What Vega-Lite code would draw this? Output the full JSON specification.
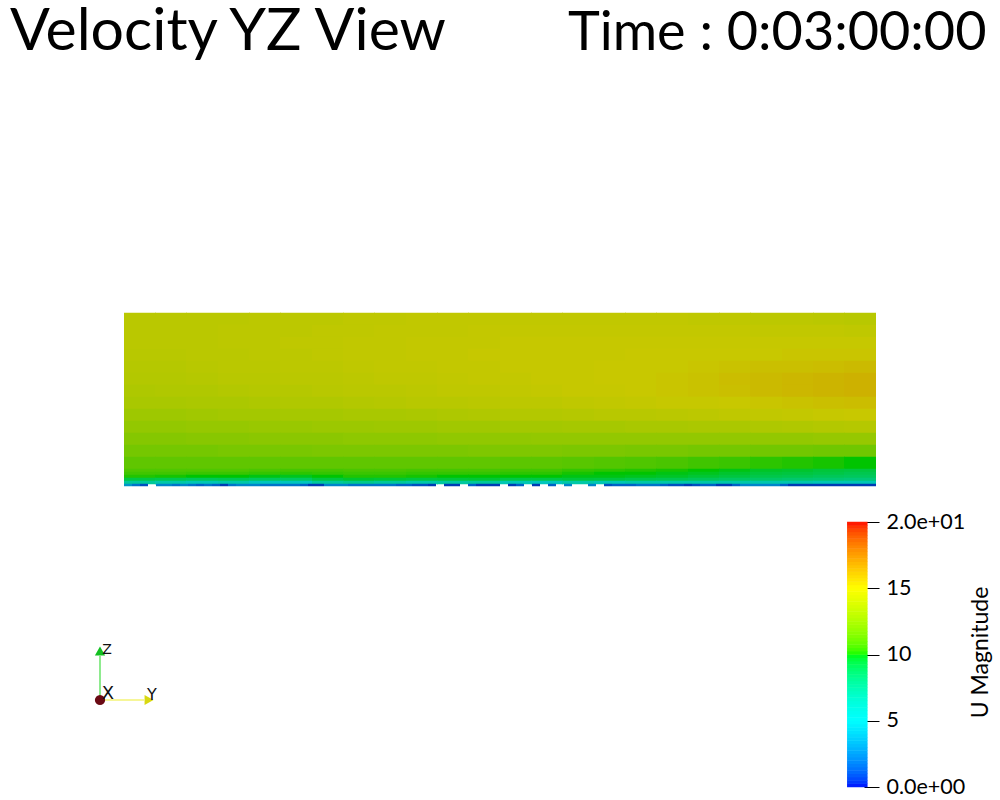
{"$schema":"https://vega.github.io/schema/vega-lite/v6.json","width":1000,"height":800,"padding":0,"autosize":"none","background":"white","view":{"stroke":null},
"datasets":{"title1":[{"y":-114,"z":436,"t":"Velocity YZ View"}],"title2":[{"y":444,"z":436,"t":"Time : 0:03:00:00"}],
"bar":[{"y":733.3,"u":0.125},{"y":733.3,"u":0.375},{"y":733.3,"u":0.625},{"y":733.3,"u":0.875},{"y":733.3,"u":1.125},{"y":733.3,"u":1.375},{"y":733.3,"u":1.625},{"y":733.3,"u":1.875},{"y":733.3,"u":2.125},{"y":733.3,"u":2.375},{"y":733.3,"u":2.625},{"y":733.3,"u":2.875},{"y":733.3,"u":3.125},{"y":733.3,"u":3.375},{"y":733.3,"u":3.625},{"y":733.3,"u":3.875},{"y":733.3,"u":4.125},{"y":733.3,"u":4.375},{"y":733.3,"u":4.625},{"y":733.3,"u":4.875},{"y":733.3,"u":5.125},{"y":733.3,"u":5.375},{"y":733.3,"u":5.625},{"y":733.3,"u":5.875},{"y":733.3,"u":6.125},{"y":733.3,"u":6.375},{"y":733.3,"u":6.625},{"y":733.3,"u":6.875},{"y":733.3,"u":7.125},{"y":733.3,"u":7.375},{"y":733.3,"u":7.625},{"y":733.3,"u":7.875},{"y":733.3,"u":8.125},{"y":733.3,"u":8.375},{"y":733.3,"u":8.625},{"y":733.3,"u":8.875},{"y":733.3,"u":9.125},{"y":733.3,"u":9.375},{"y":733.3,"u":9.625},{"y":733.3,"u":9.875},{"y":733.3,"u":10.125},{"y":733.3,"u":10.375},{"y":733.3,"u":10.625},{"y":733.3,"u":10.875},{"y":733.3,"u":11.125},{"y":733.3,"u":11.375},{"y":733.3,"u":11.625},{"y":733.3,"u":11.875},{"y":733.3,"u":12.125},{"y":733.3,"u":12.375},{"y":733.3,"u":12.625},{"y":733.3,"u":12.875},{"y":733.3,"u":13.125},{"y":733.3,"u":13.375},{"y":733.3,"u":13.625},{"y":733.3,"u":13.875},{"y":733.3,"u":14.125},{"y":733.3,"u":14.375},{"y":733.3,"u":14.625},{"y":733.3,"u":14.875},{"y":733.3,"u":15.125},{"y":733.3,"u":15.375},{"y":733.3,"u":15.625},{"y":733.3,"u":15.875},{"y":733.3,"u":16.125},{"y":733.3,"u":16.375},{"y":733.3,"u":16.625},{"y":733.3,"u":16.875},{"y":733.3,"u":17.125},{"y":733.3,"u":17.375},{"y":733.3,"u":17.625},{"y":733.3,"u":17.875},{"y":733.3,"u":18.125},{"y":733.3,"u":18.375},{"y":733.3,"u":18.625},{"y":733.3,"u":18.875},{"y":733.3,"u":19.125},{"y":733.3,"u":19.375},{"y":733.3,"u":19.625},{"y":733.3,"u":19.875}],
"lines":[{"axis":"Y","y":-24,"z":-214,"y1":20,"z1":-214},{"axis":"Z","y":-24,"z":-214,"y1":-24,"z1":-170}],
"heads":[{"axis":"X","y":-24,"z":-214},{"axis":"Y","y":25,"z":-214},{"axis":"Z","y":-24,"z":-165}],
"labels":[{"axis":"X","y":-16,"z":-208},{"axis":"Y","y":28,"z":-209},{"axis":"Z","y":-17,"z":-164}],
"main":[
{"y":16,"z":167,"u":14.4},{"y":47,"z":167,"u":14.4},{"y":78,"z":167,"u":14.4},{"y":110,"z":167,"u":14.4},{"y":141,"z":167,"u":14.5},{"y":172,"z":167,"u":14.5},{"y":204,"z":167,"u":14.5},{"y":235,"z":167,"u":14.6},{"y":266,"z":167,"u":14.6},{"y":298,"z":167,"u":14.7},{"y":329,"z":167,"u":14.7},{"y":360,"z":167,"u":14.7},{"y":392,"z":167,"u":14.7},{"y":423,"z":167,"u":14.7},{"y":454,"z":167,"u":14.7},{"y":486,"z":167,"u":14.7},{"y":517,"z":167,"u":14.7},{"y":548,"z":167,"u":14.7},{"y":580,"z":167,"u":14.6},{"y":611,"z":167,"u":14.6},{"y":642,"z":167,"u":14.5},{"y":674,"z":167,"u":14.5},{"y":705,"z":167,"u":14.4},{"y":736,"z":167,"u":14.3},
{"y":16,"z":155,"u":14.4},{"y":47,"z":155,"u":14.4},{"y":78,"z":155,"u":14.4},{"y":110,"z":155,"u":14.5},{"y":141,"z":155,"u":14.5},{"y":172,"z":155,"u":14.5},{"y":204,"z":155,"u":14.6},{"y":235,"z":155,"u":14.6},{"y":266,"z":155,"u":14.7},{"y":298,"z":155,"u":14.7},{"y":329,"z":155,"u":14.7},{"y":360,"z":155,"u":14.8},{"y":392,"z":155,"u":14.8},{"y":423,"z":155,"u":14.8},{"y":454,"z":155,"u":14.8},{"y":486,"z":155,"u":14.8},{"y":517,"z":155,"u":14.8},{"y":548,"z":155,"u":14.8},{"y":580,"z":155,"u":14.8},{"y":611,"z":155,"u":14.8},{"y":642,"z":155,"u":14.7},{"y":674,"z":155,"u":14.7},{"y":705,"z":155,"u":14.7},{"y":736,"z":155,"u":14.6},
{"y":16,"z":143,"u":14.4},{"y":47,"z":143,"u":14.4},{"y":78,"z":143,"u":14.4},{"y":110,"z":143,"u":14.5},{"y":141,"z":143,"u":14.5},{"y":172,"z":143,"u":14.6},{"y":204,"z":143,"u":14.6},{"y":235,"z":143,"u":14.7},{"y":266,"z":143,"u":14.7},{"y":298,"z":143,"u":14.8},{"y":329,"z":143,"u":14.8},{"y":360,"z":143,"u":14.8},{"y":392,"z":143,"u":14.9},{"y":423,"z":143,"u":14.9},{"y":454,"z":143,"u":14.9},{"y":486,"z":143,"u":14.9},{"y":517,"z":143,"u":14.9},{"y":548,"z":143,"u":14.9},{"y":580,"z":143,"u":14.9},{"y":611,"z":143,"u":14.9},{"y":642,"z":143,"u":14.9},{"y":674,"z":143,"u":14.9},{"y":705,"z":143,"u":14.9},{"y":736,"z":143,"u":14.9},
{"y":16,"z":131,"u":14.3},{"y":47,"z":131,"u":14.3},{"y":78,"z":131,"u":14.4},{"y":110,"z":131,"u":14.4},{"y":141,"z":131,"u":14.5},{"y":172,"z":131,"u":14.5},{"y":204,"z":131,"u":14.6},{"y":235,"z":131,"u":14.7},{"y":266,"z":131,"u":14.7},{"y":298,"z":131,"u":14.8},{"y":329,"z":131,"u":14.8},{"y":360,"z":131,"u":14.9},{"y":392,"z":131,"u":14.9},{"y":423,"z":131,"u":14.9},{"y":454,"z":131,"u":14.9},{"y":486,"z":131,"u":14.9},{"y":517,"z":131,"u":15},{"y":548,"z":131,"u":15},{"y":580,"z":131,"u":15},{"y":611,"z":131,"u":15},{"y":642,"z":131,"u":15},{"y":674,"z":131,"u":15.1},{"y":705,"z":131,"u":15.1},{"y":736,"z":131,"u":15.1},
{"y":16,"z":119,"u":14.2},{"y":47,"z":119,"u":14.2},{"y":78,"z":119,"u":14.3},{"y":110,"z":119,"u":14.4},{"y":141,"z":119,"u":14.4},{"y":172,"z":119,"u":14.5},{"y":204,"z":119,"u":14.5},{"y":235,"z":119,"u":14.6},{"y":266,"z":119,"u":14.7},{"y":298,"z":119,"u":14.7},{"y":329,"z":119,"u":14.8},{"y":360,"z":119,"u":14.8},{"y":392,"z":119,"u":14.9},{"y":423,"z":119,"u":14.9},{"y":454,"z":119,"u":14.9},{"y":486,"z":119,"u":15},{"y":517,"z":119,"u":15},{"y":548,"z":119,"u":15},{"y":580,"z":119,"u":15.1},{"y":611,"z":119,"u":15.2},{"y":642,"z":119,"u":15.3},{"y":674,"z":119,"u":15.3},{"y":705,"z":119,"u":15.4},{"y":736,"z":119,"u":15.5},
{"y":16,"z":107,"u":14.1},{"y":47,"z":107,"u":14.1},{"y":78,"z":107,"u":14.2},{"y":110,"z":107,"u":14.3},{"y":141,"z":107,"u":14.3},{"y":172,"z":107,"u":14.4},{"y":204,"z":107,"u":14.4},{"y":235,"z":107,"u":14.5},{"y":266,"z":107,"u":14.6},{"y":298,"z":107,"u":14.6},{"y":329,"z":107,"u":14.7},{"y":360,"z":107,"u":14.8},{"y":392,"z":107,"u":14.8},{"y":423,"z":107,"u":14.9},{"y":454,"z":107,"u":14.9},{"y":486,"z":107,"u":15},{"y":517,"z":107,"u":15},{"y":548,"z":107,"u":15.1},{"y":580,"z":107,"u":15.2},{"y":611,"z":107,"u":15.4},{"y":642,"z":107,"u":15.5},{"y":674,"z":107,"u":15.6},{"y":705,"z":107,"u":15.7},{"y":736,"z":107,"u":15.8},
{"y":16,"z":95,"u":13.9},{"y":47,"z":95,"u":14},{"y":78,"z":95,"u":14},{"y":110,"z":95,"u":14.1},{"y":141,"z":95,"u":14.2},{"y":172,"z":95,"u":14.2},{"y":204,"z":95,"u":14.3},{"y":235,"z":95,"u":14.4},{"y":266,"z":95,"u":14.4},{"y":298,"z":95,"u":14.5},{"y":329,"z":95,"u":14.6},{"y":360,"z":95,"u":14.6},{"y":392,"z":95,"u":14.7},{"y":423,"z":95,"u":14.8},{"y":454,"z":95,"u":14.9},{"y":486,"z":95,"u":14.9},{"y":517,"z":95,"u":15},{"y":548,"z":95,"u":15.1},{"y":580,"z":95,"u":15.2},{"y":611,"z":95,"u":15.3},{"y":642,"z":95,"u":15.5},{"y":674,"z":95,"u":15.6},{"y":705,"z":95,"u":15.7},{"y":736,"z":95,"u":15.8},
{"y":16,"z":83,"u":13.7},{"y":47,"z":83,"u":13.7},{"y":78,"z":83,"u":13.8},{"y":110,"z":83,"u":13.8},{"y":141,"z":83,"u":13.9},{"y":172,"z":83,"u":14},{"y":204,"z":83,"u":14},{"y":235,"z":83,"u":14.1},{"y":266,"z":83,"u":14.2},{"y":298,"z":83,"u":14.3},{"y":329,"z":83,"u":14.3},{"y":360,"z":83,"u":14.4},{"y":392,"z":83,"u":14.5},{"y":423,"z":83,"u":14.5},{"y":454,"z":83,"u":14.6},{"y":486,"z":83,"u":14.7},{"y":517,"z":83,"u":14.8},{"y":548,"z":83,"u":14.9},{"y":580,"z":83,"u":14.9},{"y":611,"z":83,"u":15},{"y":642,"z":83,"u":15.1},{"y":674,"z":83,"u":15.2},{"y":705,"z":83,"u":15.3},{"y":736,"z":83,"u":15.4},
{"y":16,"z":71,"u":13.3},{"y":47,"z":71,"u":13.3},{"y":78,"z":71,"u":13.4},{"y":110,"z":71,"u":13.5},{"y":141,"z":71,"u":13.5},{"y":172,"z":71,"u":13.6},{"y":204,"z":71,"u":13.6},{"y":235,"z":71,"u":13.7},{"y":266,"z":71,"u":13.7},{"y":298,"z":71,"u":13.8},{"y":329,"z":71,"u":13.9},{"y":360,"z":71,"u":14},{"y":392,"z":71,"u":14.1},{"y":423,"z":71,"u":14.1},{"y":454,"z":71,"u":14.2},{"y":486,"z":71,"u":14.3},{"y":517,"z":71,"u":14.3},{"y":548,"z":71,"u":14.4},{"y":580,"z":71,"u":14.5},{"y":611,"z":71,"u":14.6},{"y":642,"z":71,"u":14.7},{"y":674,"z":71,"u":14.8},{"y":705,"z":71,"u":14.9},{"y":736,"z":71,"u":15},
{"y":16,"z":59,"u":12.9},{"y":47,"z":59,"u":12.9},{"y":78,"z":59,"u":13},{"y":110,"z":59,"u":13},{"y":141,"z":59,"u":13.1},{"y":172,"z":59,"u":13.1},{"y":204,"z":59,"u":13.2},{"y":235,"z":59,"u":13.2},{"y":266,"z":59,"u":13.3},{"y":298,"z":59,"u":13.3},{"y":329,"z":59,"u":13.4},{"y":360,"z":59,"u":13.4},{"y":392,"z":59,"u":13.5},{"y":423,"z":59,"u":13.5},{"y":454,"z":59,"u":13.6},{"y":486,"z":59,"u":13.6},{"y":517,"z":59,"u":13.7},{"y":548,"z":59,"u":13.7},{"y":580,"z":59,"u":13.8},{"y":611,"z":59,"u":13.8},{"y":642,"z":59,"u":13.9},{"y":674,"z":59,"u":14},{"y":705,"z":59,"u":14.1},{"y":736,"z":59,"u":14.2},
{"y":16,"z":47,"u":12.4},{"y":47,"z":47,"u":12.4},{"y":78,"z":47,"u":12.5},{"y":110,"z":47,"u":12.5},{"y":141,"z":47,"u":12.6},{"y":172,"z":47,"u":12.6},{"y":204,"z":47,"u":12.6},{"y":235,"z":47,"u":12.7},{"y":266,"z":47,"u":12.7},{"y":298,"z":47,"u":12.7},{"y":329,"z":47,"u":12.8},{"y":360,"z":47,"u":12.8},{"y":392,"z":47,"u":12.8},{"y":423,"z":47,"u":12.9},{"y":454,"z":47,"u":12.9},{"y":486,"z":47,"u":12.9},{"y":517,"z":47,"u":12.9},{"y":548,"z":47,"u":12.9},{"y":580,"z":47,"u":12.9},{"y":611,"z":47,"u":12.9},{"y":642,"z":47,"u":12.9},{"y":674,"z":47,"u":12.9},{"y":705,"z":47,"u":13},{"y":736,"z":47,"u":13},
{"y":16,"z":35,"u":11.9},{"y":47,"z":35,"u":11.9},{"y":78,"z":35,"u":11.9},{"y":110,"z":35,"u":12},{"y":141,"z":35,"u":12},{"y":172,"z":35,"u":12},{"y":204,"z":35,"u":12.1},{"y":235,"z":35,"u":12.1},{"y":266,"z":35,"u":12.1},{"y":298,"z":35,"u":12.1},{"y":329,"z":35,"u":12.1},{"y":360,"z":35,"u":12.2},{"y":392,"z":35,"u":12.2},{"y":423,"z":35,"u":12.2},{"y":454,"z":35,"u":12.1},{"y":486,"z":35,"u":12.1},{"y":517,"z":35,"u":12},{"y":548,"z":35,"u":12},{"y":580,"z":35,"u":11.9},{"y":611,"z":35,"u":11.9},{"y":642,"z":35,"u":11.8},{"y":674,"z":35,"u":11.8},{"y":705,"z":35,"u":11.7},{"y":736,"z":35,"u":11.7},
{"y":16,"z":23,"u":11.3},{"y":47,"z":23,"u":11.3},{"y":78,"z":23,"u":11.3},{"y":110,"z":23,"u":11.3},{"y":141,"z":23,"u":11.3},{"y":172,"z":23,"u":11.3},{"y":204,"z":23,"u":11.3},{"y":235,"z":23,"u":11.3},{"y":266,"z":23,"u":11.3},{"y":298,"z":23,"u":11.3},{"y":329,"z":23,"u":11.3},{"y":360,"z":23,"u":11.3},{"y":392,"z":23,"u":11.2},{"y":423,"z":23,"u":11.2},{"y":454,"z":23,"u":11.1},{"y":486,"z":23,"u":11},{"y":517,"z":23,"u":10.9},{"y":548,"z":23,"u":10.8},{"y":580,"z":23,"u":10.6},{"y":611,"z":23,"u":10.5},{"y":642,"z":23,"u":10.3},{"y":674,"z":23,"u":10.2},{"y":705,"z":23,"u":10.1},{"y":736,"z":23,"u":10}],
"bottom":[
{"y":16,"z":15.5,"u":10.9},{"y":47,"z":15.5,"u":10.9},{"y":78,"z":15.5,"u":10.9},{"y":110,"z":15.5,"u":10.9},{"y":141,"z":15.5,"u":10.8},{"y":172,"z":15.5,"u":10.7},{"y":204,"z":15.5,"u":10.7},{"y":235,"z":15.5,"u":10.8},{"y":266,"z":15.5,"u":10.8},{"y":298,"z":15.5,"u":10.7},{"y":329,"z":15.5,"u":10.7},{"y":360,"z":15.5,"u":10.7},{"y":392,"z":15.5,"u":10.6},{"y":423,"z":15.5,"u":10.6},{"y":454,"z":15.5,"u":10.4},{"y":486,"z":15.5,"u":10.3},{"y":517,"z":15.5,"u":10.2},{"y":548,"z":15.5,"u":10.1},{"y":580,"z":15.5,"u":10},{"y":611,"z":15.5,"u":9.9},{"y":642,"z":15.5,"u":9.7},{"y":674,"z":15.5,"u":9.6},{"y":705,"z":15.5,"u":9.4},{"y":736,"z":15.5,"u":9.3},
{"y":16,"z":12.5,"u":10.6},{"y":47,"z":12.5,"u":10.6},{"y":78,"z":12.5,"u":10.5},{"y":110,"z":12.5,"u":10.5},{"y":141,"z":12.5,"u":10.4},{"y":172,"z":12.5,"u":10.3},{"y":204,"z":12.5,"u":10.4},{"y":235,"z":12.5,"u":10.5},{"y":266,"z":12.5,"u":10.5},{"y":298,"z":12.5,"u":10.4},{"y":329,"z":12.5,"u":10.4},{"y":360,"z":12.5,"u":10.4},{"y":392,"z":12.5,"u":10.3},{"y":423,"z":12.5,"u":10.3},{"y":454,"z":12.5,"u":10.1},{"y":486,"z":12.5,"u":10},{"y":517,"z":12.5,"u":10},{"y":548,"z":12.5,"u":9.9},{"y":580,"z":12.5,"u":9.8},{"y":611,"z":12.5,"u":9.6},{"y":642,"z":12.5,"u":9.4},{"y":674,"z":12.5,"u":9.3},{"y":705,"z":12.5,"u":9.2},{"y":736,"z":12.5,"u":9},
{"y":16,"z":9.5,"u":10.2},{"y":47,"z":9.5,"u":10.1},{"y":78,"z":9.5,"u":10},{"y":110,"z":9.5,"u":10},{"y":141,"z":9.5,"u":9.9},{"y":172,"z":9.5,"u":9.8},{"y":204,"z":9.5,"u":10},{"y":235,"z":9.5,"u":10.2},{"y":266,"z":9.5,"u":10.2},{"y":298,"z":9.5,"u":10.1},{"y":329,"z":9.5,"u":10},{"y":360,"z":9.5,"u":10},{"y":392,"z":9.5,"u":10},{"y":423,"z":9.5,"u":10},{"y":454,"z":9.5,"u":9.9},{"y":486,"z":9.5,"u":9.9},{"y":517,"z":9.5,"u":9.8},{"y":548,"z":9.5,"u":9.7},{"y":580,"z":9.5,"u":9.5},{"y":611,"z":9.5,"u":9.3},{"y":642,"z":9.5,"u":9.1},{"y":674,"z":9.5,"u":9},{"y":705,"z":9.5,"u":8.8},{"y":736,"z":9.5,"u":8.7},
{"y":16,"z":6.5,"u":9.2},{"y":47,"z":6.5,"u":9},{"y":78,"z":6.5,"u":8.8},{"y":110,"z":6.5,"u":8.9},{"y":141,"z":6.5,"u":8.7},{"y":172,"z":6.5,"u":8.6},{"y":204,"z":6.5,"u":9.3},{"y":235,"z":6.5,"u":9.6},{"y":266,"z":6.5,"u":9.5},{"y":298,"z":6.5,"u":9.3},{"y":329,"z":6.5,"u":9.4},{"y":360,"z":6.5,"u":9.5},{"y":392,"z":6.5,"u":9.2},{"y":423,"z":6.5,"u":9.2},{"y":454,"z":6.5,"u":9.4},{"y":486,"z":6.5,"u":9.3},{"y":517,"z":6.5,"u":9.1},{"y":548,"z":6.5,"u":9},{"y":580,"z":6.5,"u":8.8},{"y":611,"z":6.5,"u":8.6},{"y":642,"z":6.5,"u":8.5},{"y":674,"z":6.5,"u":8.3},{"y":705,"z":6.5,"u":8.2},{"y":736,"z":6.5,"u":8},
{"y":16,"z":3.5,"u":7},{"y":47,"z":3.5,"u":6.5},{"y":78,"z":3.5,"u":6},{"y":110,"z":3.5,"u":6.5},{"y":141,"z":3.5,"u":5.5},{"y":172,"z":3.5,"u":5.5},{"y":204,"z":3.5,"u":7},{"y":235,"z":3.5,"u":7.5},{"y":266,"z":3.5,"u":7},{"y":298,"z":3.5,"u":6.5},{"y":329,"z":3.5,"u":6.8},{"y":360,"z":3.5,"u":7},{"y":392,"z":3.5,"u":6},{"y":423,"z":3.5,"u":5.5},{"y":454,"z":3.5,"u":6.5},{"y":486,"z":3.5,"u":6},{"y":517,"z":3.5,"u":6.5},{"y":548,"z":3.5,"u":6.5},{"y":580,"z":3.5,"u":6.5},{"y":611,"z":3.5,"u":6.5},{"y":642,"z":3.5,"u":6.3},{"y":674,"z":3.5,"u":6.3},{"y":705,"z":3.5,"u":6},{"y":736,"z":3.5,"u":6}],
"strip":[{"y":4,"z":1,"u":3.5},{"y":12,"z":1,"u":2.5},{"y":20,"z":1,"u":1.5},{"y":36,"z":1,"u":3},{"y":44,"z":1,"u":3},{"y":52,"z":1,"u":2.5},{"y":60,"z":1,"u":3},{"y":68,"z":1,"u":2.5},{"y":76,"z":1,"u":2},{"y":84,"z":1,"u":2.5},{"y":92,"z":1,"u":2},{"y":100,"z":1,"u":1},{"y":108,"z":1,"u":2.5},{"y":116,"z":1,"u":3},{"y":124,"z":1,"u":3},{"y":132,"z":1,"u":3},{"y":140,"z":1,"u":2.5},{"y":148,"z":1,"u":2.5},{"y":156,"z":1,"u":2.5},{"y":164,"z":1,"u":2.5},{"y":172,"z":1,"u":2.5},{"y":180,"z":1,"u":2},{"y":188,"z":1,"u":1},{"y":196,"z":1,"u":1},{"y":204,"z":1,"u":3},{"y":212,"z":1,"u":3},{"y":220,"z":1,"u":3},{"y":228,"z":1,"u":2.5},{"y":236,"z":1,"u":2.5},{"y":244,"z":1,"u":2.5},{"y":252,"z":1,"u":2.5},{"y":260,"z":1,"u":2.5},{"y":268,"z":1,"u":2.5},{"y":276,"z":1,"u":2},{"y":284,"z":1,"u":2},{"y":292,"z":1,"u":1.5},{"y":300,"z":1,"u":1.5},{"y":308,"z":1,"u":1},{"y":324,"z":1,"u":1},{"y":332,"z":1,"u":1},{"y":348,"z":1,"u":2},{"y":356,"z":1,"u":1},{"y":364,"z":1,"u":1},{"y":372,"z":1,"u":1},{"y":388,"z":1,"u":1},{"y":396,"z":1,"u":2},{"y":412,"z":1,"u":1},{"y":428,"z":1,"u":2},{"y":444,"z":1,"u":3},{"y":468,"z":1,"u":3},{"y":484,"z":1,"u":1.5},{"y":492,"z":1,"u":2},{"y":500,"z":1,"u":2},{"y":508,"z":1,"u":2},{"y":516,"z":1,"u":2.5},{"y":524,"z":1,"u":2.5},{"y":532,"z":1,"u":2.5},{"y":540,"z":1,"u":2},{"y":548,"z":1,"u":1.5},{"y":556,"z":1,"u":1.5},{"y":564,"z":1,"u":1},{"y":572,"z":1,"u":1.5},{"y":580,"z":1,"u":2},{"y":588,"z":1,"u":2},{"y":596,"z":1,"u":1},{"y":604,"z":1,"u":1},{"y":612,"z":1,"u":2},{"y":620,"z":1,"u":3},{"y":628,"z":1,"u":3},{"y":636,"z":1,"u":3},{"y":644,"z":1,"u":3},{"y":652,"z":1,"u":3},{"y":660,"z":1,"u":2},{"y":668,"z":1,"u":1},{"y":676,"z":1,"u":1},{"y":684,"z":1,"u":1},{"y":692,"z":1,"u":1},{"y":700,"z":1,"u":1},{"y":708,"z":1,"u":1},{"y":716,"z":1,"u":1},{"y":724,"z":1,"u":1},{"y":732,"z":1,"u":1},{"y":740,"z":1,"u":1},{"y":748,"z":1,"u":1}]},
"encoding":{"x":{"field":"y","type":"quantitative","axis":null,"scale":{"domain":[-124,876],"nice":false,"zero":false}},"y":{"field":"z","type":"quantitative","axis":null,"scale":{"domain":[-314,486],"nice":false,"zero":false}}},
"resolve":{"scale":{"y":"independent","color":"independent","size":"independent","shape":"independent"},"axis":{"y":"independent"}},
"layer":[
{"data":{"name":"title1"},"mark":{"type":"text","align":"left","baseline":"alphabetic","font":"Lato","fontSize":59,"color":"black"},"encoding":{"text":{"field":"t"}}},
{"data":{"name":"title2"},"mark":{"type":"text","align":"left","baseline":"alphabetic","font":"Lato","fontSize":54,"color":"black"},"encoding":{"text":{"field":"t"}}},
{"data":{"name":"main"},"mark":{"type":"rect","width":32,"height":12.5},"encoding":{"color":{"field":"u","type":"quantitative","legend":null,"scale":{"domain":[0,5,10,15,20],"range":["#000090","#00c4c4","#00c400","#c8c800","#c80000"]}}}},
{"data":{"name":"bottom"},"mark":{"type":"rect","width":32,"height":3.5},"encoding":{"color":{"field":"u","type":"quantitative","legend":null,"scale":{"domain":[0,5,10,15,20],"range":["#000090","#00c4c4","#00c400","#c8c800","#c80000"]}}}},
{"data":{"name":"strip"},"mark":{"type":"rect","width":8,"height":2.5},"encoding":{"color":{"field":"u","type":"quantitative","legend":null,"scale":{"domain":[0,5,10,15,20],"range":["#000090","#00c4c4","#00c400","#c8c800","#c80000"]}}}},
{"data":{"name":"bar"},"mark":{"type":"rect","width":20.5,"height":3.8},"encoding":{"y":{"field":"u","type":"quantitative","scale":{"domain":[-0.981,59.396],"nice":false,"zero":false},"axis":{"orient":"right","offset":-136,"domain":false,"grid":false,"ticks":true,"tickSize":15,"tickColor":"black","tickWidth":1,"values":[0,5,10,15,20],"labelExpr":"datum.value==20?'2.0e+01':datum.value==0?'0.0e+00':datum.label","labelFont":"Lato","labelFontSize":21.5,"labelColor":"black","labelPadding":7,"labelFlush":false,"labelOverlap":false,"title":"U Magnitude","titleFont":"Lato","titleFontSize":23,"titleFontWeight":"normal","titleColor":"black","titleAngle":-90,"titleX":128,"titleY":652,"titleAnchor":"middle","titleAlign":"center"}},"color":{"field":"u","type":"quantitative","legend":null,"scale":{"domain":[0,5,10,15,20],"range":["#0000ff","#00ffff","#00ff00","#ffff00","#ff0000"]}}}},
{"data":{"name":"lines"},"mark":{"type":"rule","strokeWidth":1.2},"encoding":{"x2":{"field":"y1"},"y2":{"field":"z1"},"color":{"field":"axis","type":"nominal","legend":null,"scale":{"domain":["Y","Z"],"range":["#eeee33","#44dd44"]}}}},
{"data":{"name":"heads"},"mark":{"type":"point","filled":true,"opacity":1,"size":105},"encoding":{"shape":{"field":"axis","type":"nominal","legend":null,"scale":{"domain":["X","Y","Z"],"range":["circle","triangle-right","triangle-up"]}},"color":{"field":"axis","type":"nominal","legend":null,"scale":{"domain":["X","Y","Z"],"range":["#6a0a14","#d8d810","#12c020"]}}}},
{"data":{"name":"labels"},"mark":{"type":"text","align":"center","baseline":"middle","font":"DejaVu Sans","color":"#111111"},"encoding":{"text":{"field":"axis"},"size":{"field":"axis","type":"nominal","legend":null,"scale":{"domain":["X","Y","Z"],"range":[18,14,14]}}}}
]}
